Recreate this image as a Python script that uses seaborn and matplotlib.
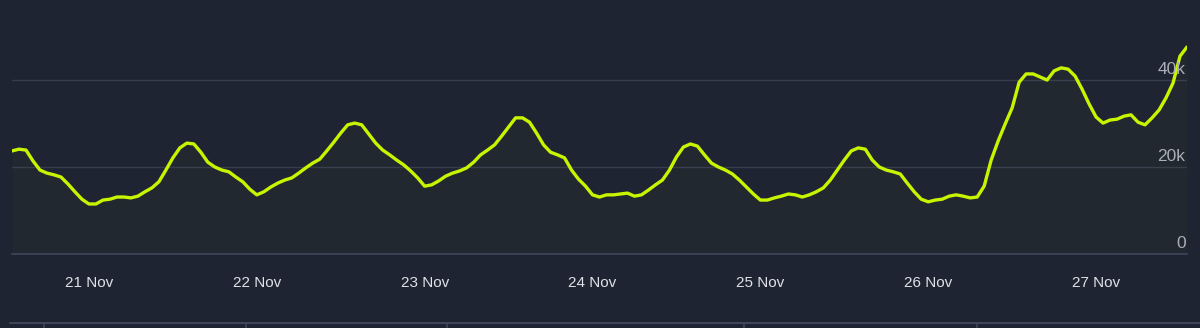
import numpy as np
import pandas as pd
import matplotlib
matplotlib.use("Agg")
import matplotlib.pyplot as plt
import matplotlib.dates as mdates
from matplotlib.lines import Line2D
import seaborn as sns

# Hourly player counts (thousands), starting 20 Nov 13:00
start_time = "2023-11-20 13:00"
players_k = [
    23.7, 24.1, 23.9, 21.4, 19.3, 18.6, 18.2, 17.7, 16.1, 14.3, 12.6,
    11.5, 11.5, 12.4, 12.6, 13.1, 13.1, 12.9, 13.3, 14.3, 15.2, 16.6,
    19.3, 22.1, 24.4, 25.5, 25.3, 23.4, 21.1, 20.0, 19.3, 18.9, 17.7,
    16.6, 14.9, 13.6, 14.3, 15.4, 16.3, 17.0, 17.5, 18.6, 19.8, 20.9,
    21.8, 23.7, 25.7, 27.8, 29.7, 30.1, 29.7, 27.6, 25.5, 23.9, 22.8,
    21.6, 20.5, 19.1, 17.5, 15.6, 15.9, 16.8, 17.9, 18.6, 19.1, 19.8,
    21.1, 22.8, 23.9, 25.1, 27.1, 29.2, 31.3, 31.3, 30.3, 27.8, 25.1,
    23.4, 22.8, 22.1, 19.3, 17.2, 15.6, 13.6, 13.1, 13.6, 13.6, 13.8,
    14.0, 13.3, 13.6, 14.7, 15.9, 17.0, 19.3, 22.3, 24.6, 25.3, 24.8,
    22.8, 20.9, 20.0, 19.3, 18.4, 17.0, 15.4, 13.8, 12.4, 12.4, 12.9,
    13.3, 13.8, 13.6, 13.1, 13.6, 14.3, 15.2, 17.0, 19.3, 21.6, 23.7,
    24.4, 24.1, 21.6, 20.0, 19.3, 18.9, 18.4, 16.3, 14.3, 12.6, 12.0,
    12.4, 12.6, 13.3, 13.6, 13.3, 12.9, 13.1, 15.6, 21.6, 26.0, 29.9,
    33.6, 39.5, 41.4, 41.4, 40.7, 40.0, 42.1, 42.8, 42.5, 40.9, 37.9,
    34.5, 31.5, 30.1, 30.8, 31.0, 31.7, 32.0, 30.3, 29.7, 31.3, 33.1,
    35.9, 39.3, 45.5, 47.6,
]
y_ticks = [0, 20000, 40000]
y_tick_labels = ["0", "20k", "40k"]
x_tick_days = ["2023-11-21", "2023-11-22", "2023-11-23", "2023-11-24",
               "2023-11-25", "2023-11-26", "2023-11-27"]

times = pd.date_range(start_time, periods=len(players_k), freq="h")
df = pd.DataFrame({"time": times, "players": np.array(players_k) * 1000})

BG = "#1e2432"
GRID = "#353d4d"
AXIS = "#3d4759"
LINE = "#c8f400"

sns.set_theme(style="dark")
plt.rcParams["font.family"] = ["Liberation Sans", "DejaVu Sans"]

fig = plt.figure(figsize=(12, 3.28), dpi=100, facecolor=BG)
ax = fig.add_axes([12 / 1200, 74 / 328, (1187 - 12) / 1200, 254 / 328])
ax.set_facecolor(BG)

ax.fill_between(df["time"], df["players"], 0, color=LINE, alpha=0.022, lw=0)
sns.lineplot(data=df, x="time", y="players", ax=ax, color=LINE, lw=2.4)

ax.set_xlim(times[0], times[-1])
ax.set_ylim(0, 58400)

# grid lines
for v in y_ticks[1:]:
    ax.axhline(v, color=GRID, lw=1.0, zorder=0)
ax.grid(False)
for s in ["top", "right", "left"]:
    ax.spines[s].set_visible(False)
ax.spines["bottom"].set_color(AXIS)
ax.spines["bottom"].set_linewidth(1.2)

ax.set_yticks([])
for v, lab in zip(y_ticks, y_tick_labels):
    ax.annotate(lab, xy=(1.0, v), xycoords=("axes fraction", "data"),
                xytext=(-1, 2), textcoords="offset points",
                ha="right", va="bottom", color="#a9aeb8", fontsize=12.5)

ax.set_xticks(pd.to_datetime(x_tick_days))
ax.xaxis.set_major_formatter(mdates.DateFormatter("%-d %b"))
ax.tick_params(axis="x", colors=AXIS, length=9, width=1.2, pad=7,
               labelcolor="#dfe1e6", labelsize=11, direction="out")
ax.set_xlabel("")
ax.set_ylabel("")

# navigator strip edge at bottom
fig.add_artist(Line2D([10 / 1200, 1], [1 - 323 / 328] * 2, color=AXIS, lw=1.5))
for xp in [44, 246, 447, 744, 977]:
    fig.add_artist(Line2D([xp / 1200] * 2, [0, 1 - 323 / 328], color=AXIS, lw=1.2))

fig.savefig("out.png", dpi=100, facecolor=BG)
